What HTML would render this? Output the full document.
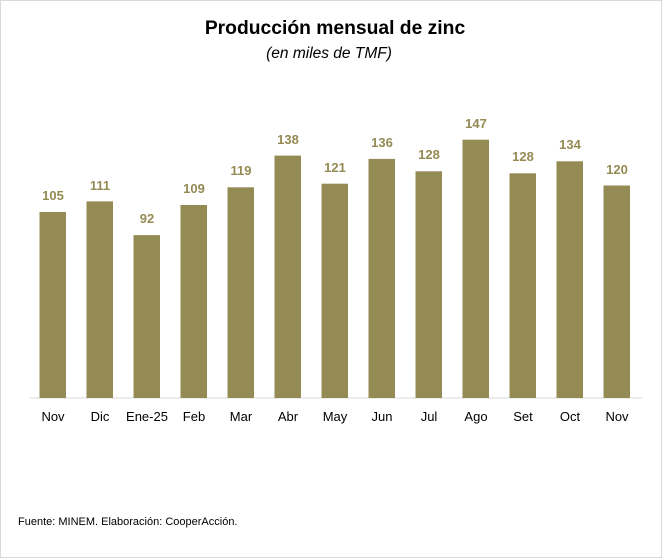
<!DOCTYPE html>
<html><head><meta charset="utf-8"><style>
html,body{margin:0;padding:0;background:#fff}
svg{display:block}
</style></head><body>
<svg width="662" height="558" xmlns="http://www.w3.org/2000/svg" font-family="Liberation Sans, Arial, sans-serif">
<rect x="0.5" y="0.5" width="661" height="557" fill="#fff" stroke="#d9d9d9"/>
<text x="335" y="34" text-anchor="middle" font-size="19.3" font-weight="bold" fill="#000">Producción mensual de zinc</text>
<text x="329" y="58" text-anchor="middle" font-size="15.5" font-style="italic" fill="#000">(en miles de TMF)</text>
<line x1="30" y1="398" x2="642" y2="398" stroke="#d9d9d9" stroke-width="1"/>
<g fill="#948a54">
<rect x="39.5" y="212" width="26.5" height="186"/>
<rect x="86.5" y="201.4" width="26.5" height="196.6"/>
<rect x="133.5" y="235.1" width="26.5" height="162.9"/>
<rect x="180.5" y="205" width="26.5" height="193"/>
<rect x="227.5" y="187.3" width="26.5" height="210.7"/>
<rect x="274.5" y="155.6" width="26.5" height="242.4"/>
<rect x="321.5" y="183.7" width="26.5" height="214.3"/>
<rect x="368.5" y="158.9" width="26.5" height="239.1"/>
<rect x="415.5" y="171.3" width="26.5" height="226.7"/>
<rect x="462.5" y="139.7" width="26.5" height="258.3"/>
<rect x="509.5" y="173.3" width="26.5" height="224.7"/>
<rect x="556.5" y="161.3" width="26.5" height="236.7"/>
<rect x="603.5" y="185.5" width="26.5" height="212.5"/>
</g>
<g fill="#948a54" font-size="13" font-weight="bold" text-anchor="middle">
<text x="53" y="200">105</text>
<text x="100" y="190">111</text>
<text x="147" y="223">92</text>
<text x="194" y="193">109</text>
<text x="241" y="175">119</text>
<text x="288" y="144">138</text>
<text x="335" y="172">121</text>
<text x="382" y="147">136</text>
<text x="429" y="159">128</text>
<text x="476" y="128">147</text>
<text x="523" y="161">128</text>
<text x="570" y="149">134</text>
<text x="617" y="174">120</text>
</g>
<g fill="#000" font-size="13" text-anchor="middle">
<text x="53" y="421">Nov</text>
<text x="100" y="421">Dic</text>
<text x="147" y="421">Ene-25</text>
<text x="194" y="421">Feb</text>
<text x="241" y="421">Mar</text>
<text x="288" y="421">Abr</text>
<text x="335" y="421">May</text>
<text x="382" y="421">Jun</text>
<text x="429" y="421">Jul</text>
<text x="476" y="421">Ago</text>
<text x="523" y="421">Set</text>
<text x="570" y="421">Oct</text>
<text x="617" y="421">Nov</text>
</g>
<text x="18" y="525" font-size="11" fill="#000">Fuente: MINEM. Elaboración: CooperAcción.</text>
</svg>
</body></html>
